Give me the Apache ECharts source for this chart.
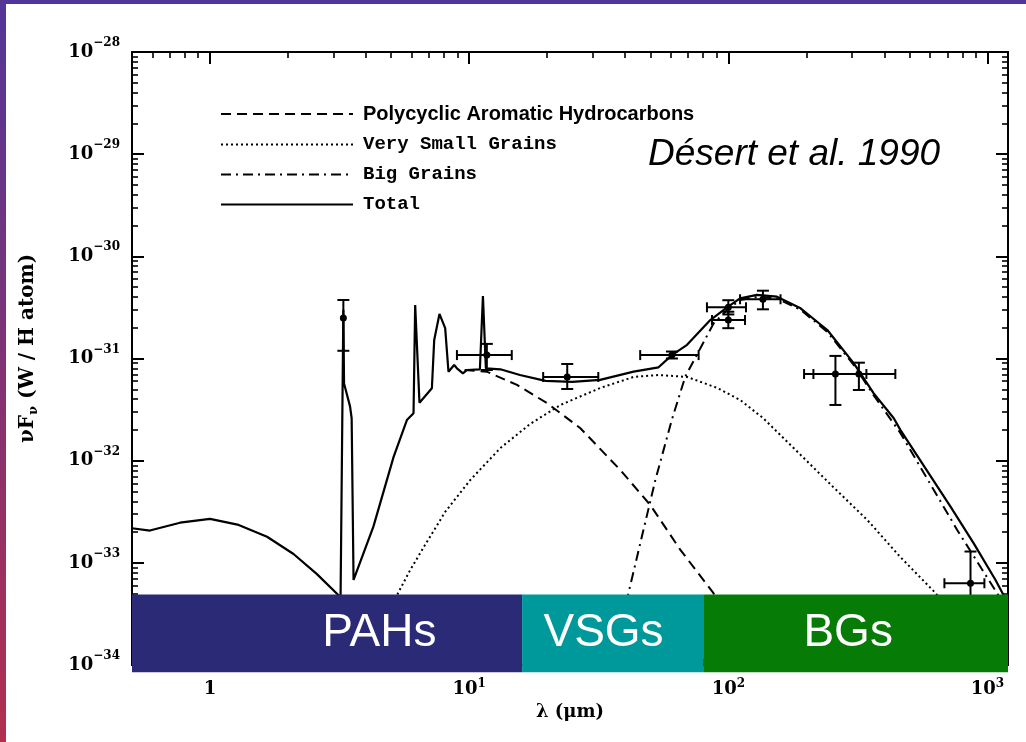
<!DOCTYPE html>
<html>
<head>
<meta charset="utf-8">
<title>Désert et al. 1990</title>
<script src="https://cdn.jsdelivr.net/npm/echarts@6/dist/echarts.min.js"></script>
<style>
  html, body { margin: 0; padding: 0; background: #fff; }
  #chart { width: 1026px; height: 742px; }
</style>
</head>
<body>
<div id="chart"></div>
<script>
// ---- data: [wavelength (um), nuF_nu (W / H atom)] ----
const totalCurve = [
  [0.5, 2.18e-33], [0.586, 2.07e-33], [0.766, 2.47e-33], [1.0, 2.69e-33], [1.29, 2.35e-33],
  [1.66, 1.80e-33], [2.10, 1.22e-33], [2.58, 7.8e-34], [3.19, 4.6e-34], [3.27, 3.0e-31],
  [3.29, 5.7e-32], [3.47, 3.4e-32], [3.52, 2.6e-32], [3.58, 6.8e-34], [4.27, 2.26e-33],
  [5.11, 1.09e-32], [5.75, 2.50e-32], [6.10, 2.91e-32], [6.19, 3.34e-31], [6.43, 3.69e-32],
  [7.18, 5.11e-32], [7.33, 1.52e-31], [7.68, 2.73e-31], [8.08, 1.98e-31], [8.32, 7.43e-32],
  [8.75, 8.64e-32], [8.97, 8.02e-32], [9.46, 7.16e-32], [9.80, 7.72e-32], [11.0, 7.84e-32],
  [11.3, 4.09e-31], [11.6, 8.02e-32], [13.2, 7.84e-32], [15.7, 6.90e-32], [19.7, 6.03e-32],
  [25.0, 5.9e-32], [32.0, 6.17e-32], [43.1, 7.43e-32], [53.8, 8.20e-32], [60.6, 1.08e-31],
  [69.3, 1.36e-31], [85.2, 2.38e-31], [98.9, 3.17e-31], [111, 3.88e-31], [129, 4.19e-31],
  [154, 4.03e-31], [190, 3.10e-31], [241, 1.90e-31], [305, 8.97e-32], [364, 4.56e-32],
  [435, 2.60e-32], [461, 2.00e-32], [720, 3.55e-33], [885, 1.55e-33], [1074, 6.8e-34],
  [1165, 4.6e-34]
];

const pahCurve = [
  [9.6, 7.7e-32], [11.7, 7.43e-32], [15.3, 5.51e-32], [20.0, 3.65e-32], [26.8, 2.09e-32],
  [38.3, 8.1e-33], [50.0, 3.68e-33], [65.3, 1.34e-33], [87.5, 5.07e-34], [93, 4.0e-34]
];

const vsgCurve = [
  [5.08, 4.0e-34], [5.32, 5.07e-34], [5.92, 8.5e-34], [6.76, 1.5e-33], [8.08, 3.15e-33],
  [10.1, 6.47e-33], [13.2, 1.33e-32], [17.2, 2.29e-32], [22.5, 3.51e-32], [32.0, 5.14e-32],
  [43.0, 6.59e-32], [53.7, 6.9e-32], [69.5, 6.59e-32], [90.8, 5.14e-32], [111, 3.93e-32],
  [136, 2.62e-32], [190, 1.14e-32], [254, 5.52e-33], [344, 2.62e-33], [461, 1.14e-33],
  [630, 5.07e-34], [680, 4.0e-34]
];

const bgCurve = [
  [40.3, 4.0e-34], [41.2, 5.07e-34], [45.1, 1.34e-33], [52.3, 6.47e-33], [60.5, 2.5e-32],
  [68.2, 6.64e-32], [78.0, 1.26e-31], [87.8, 2.21e-31], [98.9, 2.99e-31], [111, 3.74e-31],
  [129, 4.0e-31], [154, 3.87e-31], [190, 3.0e-31], [241, 1.82e-31], [305, 8.63e-32],
  [364, 4.35e-32], [461, 1.87e-32], [764, 2.10e-33], [1089, 5.04e-34], [1150, 4.0e-34]
];

// observations: [lambda, nuFnu, lambdaLow, lambdaHigh, nuFnuLow, nuFnuHigh]
const observations = [
  [3.27, 2.49e-31, 3.27, 3.27, 1.19e-31, 3.74e-31],
  [11.7, 1.08e-31, 8.97, 14.6, 7.72e-32, 1.39e-31],
  [23.9, 6.59e-32, 19.3, 31.5, 5.03e-32, 8.84e-32],
  [60.6, 1.08e-31, 45.7, 76.8, 1.0e-31, 1.17e-31],
  [100, 3.17e-31, 82.7, 117, 2.7e-31, 3.72e-31],
  [100, 2.38e-31, 86.5, 116, 1.98e-31, 2.87e-31],
  [136, 3.80e-31, 111, 159, 3.03e-31, 4.61e-31],
  [259, 7.05e-32, 196, 341, 3.51e-32, 1.06e-31],
  [319, 7.05e-32, 213, 441, 4.92e-32, 9.1e-32],
  [860, 6.31e-34, 682, 973, 3.0e-34, 1.29e-33]
];

const seriesNames = ["Polycyclic Aromatic Hydrocarbons", "Very Small Grains", "Big Grains", "Total"];
const bandNames = ["PAHs", "VSGs", "BGs"];
const bandEdges = [0.5, 16, 80, 1200];   // um
const bandLabelAt = [4.5, 33, 290];      // um
const xMajorExp = [0, 1, 2, 3];
const yMajorExp = [-34, -33, -32, -31, -30, -29, -28];

// ---- layout / style ----
const bandColors = ["#2b2a77", "#00999b", "#067c06"];
const BAND_TOP = -33.31;
const BAND_BOTTOM = -34.07;
const X_MIN = Math.log10(bandEdges[0]);
const X_MAX = Math.log10(bandEdges[3]);
const serif = "DejaVu Serif";

const toLog = p => p.map(v => Math.log10(v));

const xMinor = [];
for (let n = -1; n <= 3; n++) {
  for (let k = 2; k <= 9; k++) {
    const v = n + Math.log10(k);
    if (v >= X_MIN - 1e-9 && v <= X_MAX) xMinor.push(v);
  }
}
const yMinor = [];
for (let n = -34; n < -28; n++) {
  for (let k = 2; k <= 9; k++) yMinor.push(n + Math.log10(k));
}

function labelRich(lineHeight) {
  return {
    b: { fontFamily: serif, fontWeight: "bold", fontSize: 18, lineHeight: lineHeight, color: "#000" },
    s: { fontFamily: serif, fontWeight: "bold", fontSize: 12, lineHeight: 12, verticalAlign: "top", color: "#000" }
  };
}

function axisPair(dim, pos, major, minor, withLabels) {
  const base = {
    type: "value",
    position: pos,
    min: dim === "x" ? X_MIN : -34,
    max: dim === "x" ? X_MAX : -28,
    splitLine: { show: false }
  };
  const majorAxis = Object.assign({}, base, {
    axisLine: { show: true, onZero: false, lineStyle: { color: "#000", width: 2 } },
    axisTick: { show: true, inside: true, length: 12, customValues: major, lineStyle: { color: "#000", width: 2 } },
    axisLabel: { show: false }
  });
  const minorAxis = Object.assign({}, base, {
    axisLine: { show: false, onZero: false },
    axisTick: { show: true, inside: true, length: 6, customValues: minor, lineStyle: { color: "#000", width: 1.6 } },
    axisLabel: { show: false }
  });
  if (withLabels) {
    majorAxis.axisLabel = {
      show: true,
      customValues: major,
      margin: dim === "x" ? 13 : 12,
      rich: labelRich(dim === "x" ? 22 : 30),
      formatter: v => {
        const e = Math.round(v);
        if (e === 0) return "{b|1}";
        return "{b|10}{s|" + (e < 0 ? "\u2212" + (-e) : e) + "}";
      }
    };
  }
  return [majorAxis, minorAxis];
}

const xAxes = axisPair("x", "bottom", xMajorExp, xMinor, true).concat(axisPair("x", "top", xMajorExp, xMinor, false));
const yAxes = axisPair("y", "left", yMajorExp, yMinor, true).concat(axisPair("y", "right", yMajorExp, yMinor, false));

Object.assign(xAxes[0], {
  name: "\u03bb (\u03bcm)",
  nameLocation: "middle",
  nameGap: 37,
  nameTextStyle: { fontFamily: serif, fontWeight: "bold", fontSize: 18, color: "#000" }
});
Object.assign(yAxes[0], {
  name: "{a|\u03bdF}{n|\u03bd}{a| (W / H atom)}",
  nameLocation: "middle",
  nameRotate: 90,
  nameGap: 92,
  nameTextStyle: {
    padding: [0, 0, 0, 20],
    rich: {
      a: { fontFamily: serif, fontWeight: "bold", fontSize: 20, color: "#000", lineHeight: 24 },
      n: { fontFamily: serif, fontWeight: "bold", fontSize: 13, color: "#000", verticalAlign: "bottom", lineHeight: 13 }
    }
  }
});

function curve(name, points, type, width, z) {
  return {
    name: name,
    type: "line",
    data: points.map(toLog),
    showSymbol: false,
    symbol: "none",
    silent: true,
    z: z,
    lineStyle: { color: "#000", width: width, type: type },
    emphasis: { disabled: true }
  };
}

function renderErrorBar(params, api) {
  const c = api.coord([api.value(0), api.value(1)]);
  const l = api.coord([api.value(2), api.value(1)]);
  const r = api.coord([api.value(3), api.value(1)]);
  const lo = api.coord([api.value(0), api.value(4)]);
  const hi = api.coord([api.value(0), api.value(5)]);
  const style = { stroke: "#000", lineWidth: 2 };
  const seg = (x1, y1, x2, y2) => ({ type: "line", shape: { x1, y1, x2, y2 }, style });
  const children = [];
  if (r[0] - l[0] > 1) {
    children.push(seg(l[0], c[1], r[0], c[1]));
    children.push(seg(l[0], c[1] - 5, l[0], c[1] + 5));
    children.push(seg(r[0], c[1] - 5, r[0], c[1] + 5));
  }
  if (lo[1] - hi[1] > 1) {
    children.push(seg(c[0], hi[1], c[0], lo[1]));
    children.push(seg(c[0] - 6, hi[1], c[0] + 6, hi[1]));
    children.push(seg(c[0] - 6, lo[1], c[0] + 6, lo[1]));
  }
  children.push({ type: "circle", shape: { cx: c[0], cy: c[1], r: 3.5 }, style: { fill: "#000" } });
  return { type: "group", children };
}

function renderBand(params, api) {
  const i = params.dataIndex;
  const tl = api.coord([api.value(0), api.value(3)]);
  const br = api.coord([api.value(1), api.value(4)]);
  const mid = api.coord([api.value(2), (api.value(3) + api.value(4)) / 2]);
  return {
    type: "group",
    children: [
      { type: "rect", shape: { x: tl[0], y: tl[1], width: br[0] - tl[0], height: br[1] - tl[1] }, style: { fill: bandColors[i] } },
      {
        type: "text", x: mid[0], y: mid[1],
        style: {
          text: bandNames[i], fill: "#fff", font: '46px "Liberation Sans"',
          align: "center", verticalAlign: "middle", textAlign: "center", textVerticalAlign: "middle"
        }
      }
    ]
  };
}

const bandData = bandNames.map((n, i) => [
  Math.log10(bandEdges[i]), Math.log10(bandEdges[i + 1]), Math.log10(bandLabelAt[i]), BAND_TOP, BAND_BOTTOM
]);

const chart = echarts.init(document.getElementById("chart"), null, { renderer: "canvas" });

chart.setOption({
  backgroundColor: "#ffffff",
  animation: false,
  grid: { left: 132, right: 18, top: 52, bottom: 77, containLabel: false },
  xAxis: xAxes,
  yAxis: yAxes,
  legend: {
    orient: "vertical",
    left: 215,
    top: 99,
    itemWidth: 132,
    itemHeight: 14,
    itemGap: 11,
    selectedMode: false,
    data: seriesNames,
    itemStyle: { opacity: 0 },
    formatter: name => (name === seriesNames[0] ? "{p|" + name + "}" : "{m|" + name + "}"),
    textStyle: {
      color: "#000",
      padding: [0, 0, 0, 5],
      rich: {
        p: { fontFamily: "Liberation Sans", fontWeight: "bold", fontSize: 20, color: "#000" },
        m: { fontFamily: "Liberation Mono", fontWeight: "bold", fontSize: 19, color: "#000" }
      }
    }
  },
  graphic: [
    { type: "rect", left: 0, top: 0, z: 100, shape: { width: 1026, height: 4 }, style: { fill: "#50369a" } },
    {
      type: "rect", left: 0, top: 0, z: 100, shape: { width: 6, height: 742 },
      style: {
        fill: new echarts.graphic.LinearGradient(0, 0, 0, 1, [
          { offset: 0, color: "#523698" },
          { offset: 1, color: "#b12f4f" }
        ])
      }
    },
    {
      type: "text", x: 648, y: 155, z: 100,
      style: {
        text: "Désert et al. 1990",
        font: 'italic 37px "Liberation Sans"',
        fill: "#000",
        textVerticalAlign: "middle",
        verticalAlign: "middle"
      }
    }
  ],
  series: [
    curve(seriesNames[0], pahCurve, [10, 6], 2, 3),
    curve(seriesNames[1], vsgCurve, [2, 3], 2, 3),
    curve(seriesNames[2], bgCurve, [10, 5, 2, 5], 2, 3),
    curve(seriesNames[3], totalCurve, "solid", 2.2, 4),
    {
      type: "custom",
      name: "observations",
      silent: true,
      z: 5,
      renderItem: renderErrorBar,
      encode: { x: [0, 2, 3], y: [1, 4, 5] },
      data: observations.map(toLog)
    },
    {
      type: "custom",
      name: "bands",
      silent: true,
      clip: false,
      z: 20,
      renderItem: renderBand,
      encode: { x: [0, 1, 2], y: [3, 4] },
      data: bandData
    }
  ]
});
</script>
</body>
</html>
